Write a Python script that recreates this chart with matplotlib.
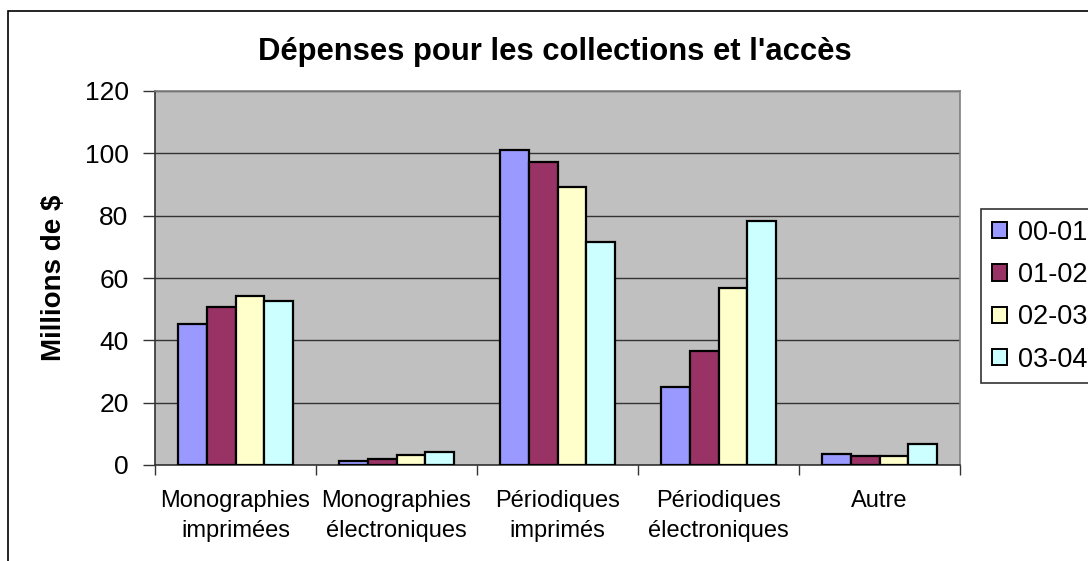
import matplotlib
matplotlib.use("Agg")
import matplotlib.pyplot as plt
from matplotlib.patches import Rectangle, Patch
import numpy as np

plt.rcParams['font.family'] = ['Liberation Sans', 'DejaVu Sans']

categories = ["Monographies\nimprimées", "Monographies\nélectroniques",
              "Périodiques\nimprimés", "Périodiques\nélectroniques", "Autre"]
series_names = ["00-01", "01-02", "02-03", "03-04"]
s_0001 = [45.2, 1.3, 101.0, 25.1, 3.6]
s_0102 = [50.7, 1.9, 97.3, 36.7, 3.0]
s_0203 = [54.3, 3.1, 89.3, 56.9, 2.9]
s_0304 = [52.6, 4.3, 71.5, 78.3, 6.7]
series_values = [s_0001, s_0102, s_0203, s_0304]
colors = ["#9999FF", "#993366", "#FFFFCC", "#CCFFFF"]
yticks = [0, 20, 40, 60, 80, 100, 120]

W, H = 1088, 561
fig = plt.figure(figsize=(W / 100, H / 100), dpi=100)
ax = fig.add_axes([155 / W, 1 - 465 / H, (960 - 155) / W, (465 - 91) / H])
ax.set_facecolor("#C0C0C0")

# outer chart border
fig.patches.append(Rectangle((8 / W, -0.1), 1.2, 1 - 11 / H + 0.1,
                             transform=fig.transFigure, fill=False,
                             edgecolor="black", linewidth=1.2, zorder=-1))

x = np.arange(len(categories))
bw = 0.18
for i, (vals, c) in enumerate(zip(series_values, colors)):
    ax.bar(x + (i - 1.5) * bw, vals, width=bw, color=c, edgecolor="black",
           linewidth=1.6, zorder=3, label=series_names[i])

ax.set_xlim(-0.5, len(categories) - 0.5)
ax.set_ylim(0, 120)
ax.set_yticks(yticks)
ax.set_yticklabels([str(v) for v in yticks], fontsize=19)
ax.yaxis.grid(True, color="#333333", linewidth=1.0, zorder=1)
ax.set_axisbelow(True)

ax.set_xticks(x)
ax.set_xticklabels(categories, fontsize=17, linespacing=1.45)
ax.tick_params(axis='x', which='major', length=0, pad=18)
ax.set_xticks(np.arange(-0.5, len(categories), 1.0), minor=True)
ax.tick_params(axis='x', which='minor', length=7, width=1, color="#333333")
ax.tick_params(axis='y', length=9, width=1, color="#333333", pad=10)

for s in ["left", "bottom"]:
    ax.spines[s].set_color("#333333")
    ax.spines[s].set_linewidth(1.2)
for s in ["top", "right"]:
    ax.spines[s].set_color("#808080")
    ax.spines[s].set_linewidth(1.2)

ax.set_ylabel("Millions de $", fontsize=20, fontweight="bold", labelpad=13)
fig.text(555 / W, 1 - 52 / H, "Dépenses pour les collections et l'accès",
         fontsize=22.3, fontweight="bold", ha="center", va="center")

handles = [Patch(facecolor=c, edgecolor="black", linewidth=1.4) for c in colors]
leg = fig.legend(handles, series_names, loc="upper left",
                 bbox_to_anchor=(981 / W, 1 - 209 / H), borderaxespad=0,
                 fontsize=19.5, frameon=True, fancybox=False, edgecolor="black",
                 handlelength=0.55, handleheight=0.55, handletextpad=0.4,
                 labelspacing=0.6, borderpad=0.4)
leg.get_frame().set_linewidth(1.2)

fig.savefig("out.png", dpi=100)
